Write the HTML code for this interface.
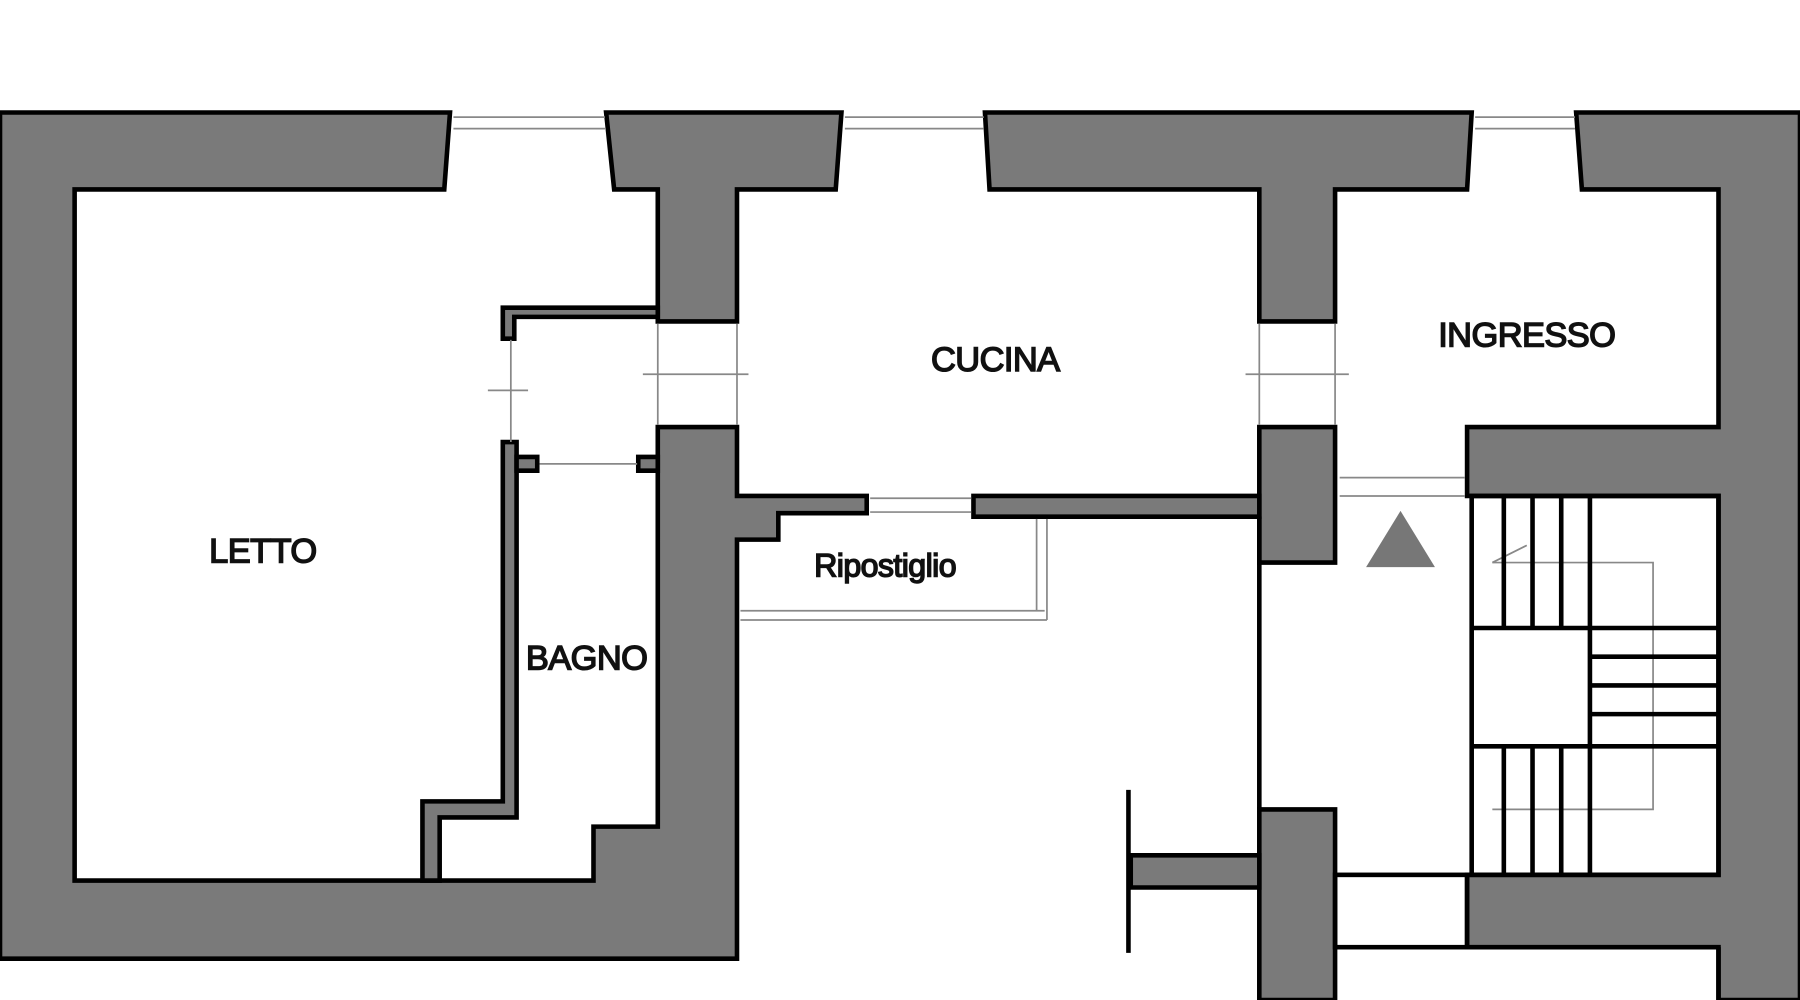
<!DOCTYPE html>
<html><head><meta charset="utf-8"><style>
html,body{margin:0;padding:0;background:#fff;width:1800px;height:1000px;overflow:hidden}
svg{display:block}
text{font-family:"Liberation Sans",Arial,sans-serif;font-size:30px;fill:#111;stroke:#111;stroke-width:1.3;letter-spacing:-0.5px}
</style></head><body>
<svg width="1800" height="1000" viewBox="0 0 1568 871" preserveAspectRatio="none">
<g fill="#7a7a7a" stroke="#000" stroke-width="4" stroke-linejoin="miter">
<polygon points="0,98 392,98 387,165 65,165 65,767 517,767 517,720 573,720 573,372 642,372 642,432 755,432 755,447 678,447 678,470 642,470 642,835 0,835"/>
<polygon points="528,98 733,98 728,165 642,165 642,280 573,280 573,165 535,165"/>
<polygon points="858,98 1282,98 1278,165 1163,165 1163,280 1097,280 1097,165 862,165"/>
<polygon points="1373,98 1568,98 1568,871 1497,871 1497,825 1278,825 1278,762 1497,762 1497,432 1278,432 1278,372 1497,372 1497,165 1378,165"/>
<polygon points="1097,372 1163,372 1163,490 1097,490"/>
<polygon points="848,432 1097,432 1097,450 848,450"/>
<polygon points="1097,705 1163,705 1163,871 1097,871"/>
<polygon points="985,745 1097,745 1097,773 985,773"/>
<polygon points="438,268 573,268 573,276 448,276 448,295 438,295"/>
<polygon points="438,385 450,385 450,712 383,712 383,767 368,767 368,698 438,698"/>
<polygon points="450,398 468,398 468,410 450,410"/>
<polygon points="556,398 573,398 573,410 556,410"/>
</g>
<g stroke="#000" fill="none">
<line x1="983" y1="688" x2="983" y2="830" stroke-width="4"/>
<line x1="1097" y1="450" x2="1097" y2="705" stroke-width="4"/>
<rect x="1163" y="762" width="115" height="63" stroke-width="4"/>
<line x1="1497" y1="825" x2="1497" y2="871" stroke-width="4"/>
</g>
<g stroke="#888" fill="none" stroke-width="1.5">
<line x1="395" y1="102" x2="527" y2="102"/><line x1="395" y1="112" x2="527" y2="112"/>
<line x1="736" y1="102" x2="857" y2="102"/><line x1="736" y1="112" x2="857" y2="112"/>
<line x1="1285" y1="102" x2="1372" y2="102"/><line x1="1285" y1="112" x2="1372" y2="112"/>
<line x1="645" y1="532" x2="910" y2="532"/><line x1="645" y1="540" x2="912" y2="540"/>
<line x1="903" y1="452" x2="903" y2="532"/><line x1="912" y1="452" x2="912" y2="540"/>
<line x1="758" y1="434" x2="846" y2="434"/><line x1="758" y1="446" x2="846" y2="446"/>
<line x1="1167" y1="416" x2="1276" y2="416"/><line x1="1167" y1="432" x2="1276" y2="432"/>
<line x1="445" y1="296" x2="445" y2="385"/><line x1="573" y1="282" x2="573" y2="370"/><line x1="642" y1="282" x2="642" y2="370"/>
<line x1="1097" y1="282" x2="1097" y2="370"/><line x1="1163" y1="282" x2="1163" y2="370"/>
<line x1="560" y1="326" x2="652" y2="326"/><line x1="1085" y1="326" x2="1175" y2="326"/>
<line x1="425" y1="340" x2="460" y2="340"/>
<line x1="470" y1="404" x2="555" y2="404"/>
<polyline points="1300,490 1440,490 1440,705 1300,705"/>
<line x1="1300" y1="490" x2="1330" y2="475"/>
</g>
<g stroke="#000" stroke-width="4" fill="none">
<rect x="1282" y="432" width="215" height="330"/>
<line x1="1385" y1="432" x2="1385" y2="762"/>
<line x1="1282" y1="547" x2="1497" y2="547"/>
<line x1="1282" y1="650" x2="1497" y2="650"/>
<line x1="1310" y1="432" x2="1310" y2="547"/><line x1="1335" y1="432" x2="1335" y2="547"/><line x1="1360" y1="432" x2="1360" y2="547"/>
<line x1="1310" y1="650" x2="1310" y2="762"/><line x1="1335" y1="650" x2="1335" y2="762"/><line x1="1360" y1="650" x2="1360" y2="762"/>
<line x1="1385" y1="572" x2="1497" y2="572"/><line x1="1385" y1="597" x2="1497" y2="597"/><line x1="1385" y1="622" x2="1497" y2="622"/>
</g>
<polygon points="1190,494 1250,494 1220,445" fill="#777"/>
<text x="229" y="490" text-anchor="middle">LETTO</text>
<text x="511" y="583" text-anchor="middle">BAGNO</text>
<text x="867" y="323" text-anchor="middle">CUCINA</text>
<text x="1330" y="302" text-anchor="middle">INGRESSO</text>
<text x="771" y="502" text-anchor="middle" style="font-size:28px">Ripostiglio</text>
</svg>
</body></html>
